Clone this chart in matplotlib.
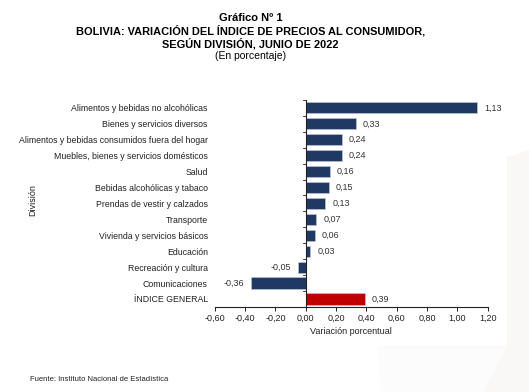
import matplotlib
matplotlib.use("Agg")
import matplotlib.pyplot as plt
from matplotlib.patches import Polygon
import numpy as np

plt.rcParams['font.family'] = ['Liberation Sans', 'DejaVu Sans']

# data (top to bottom as in the chart)
categorias = [
    "Alimentos y bebidas no alcohólicas",
    "Bienes y servicios diversos",
    "Alimentos y bebidas consumidos fuera del hogar",
    "Muebles, bienes y servicios domésticos",
    "Salud",
    "Bebidas alcohólicas y tabaco",
    "Prendas de vestir y calzados",
    "Transporte",
    "Vivienda y servicios básicos",
    "Educación",
    "Recreación y cultura",
    "Comunicaciones",
    "ÍNDICE GENERAL",
]
valores = [1.13, 0.33, 0.24, 0.24, 0.16, 0.15, 0.13, 0.07, 0.06, 0.03, -0.05, -0.36, 0.39]
xticks = [-0.60, -0.40, -0.20, 0.00, 0.20, 0.40, 0.60, 0.80, 1.00, 1.20]

navy = '#1F3864'
red = '#C00000'
colores = [navy] * (len(valores) - 1) + [red]

fig = plt.figure(figsize=(5.29, 3.92), dpi=100)

# faint background watermark on the right edge
W, H = 529, 392
wm = [(507, 157), (529, 150), (529, 392), (483, 392), (507, 345)]
fig.patches.append(Polygon([(x / W, 1 - y / H) for x, y in wm], closed=True,
                           transform=fig.transFigure, facecolor='#faf8f7',
                           edgecolor='none', zorder=0))
wm2 = [(377, 345), (507, 345), (483, 392), (381, 392)]
fig.patches.append(Polygon([(x / W, 1 - y / H) for x, y in wm2], closed=True,
                           transform=fig.transFigure, facecolor='#fdfcfc',
                           edgecolor='none', zorder=0))

ax = fig.add_axes([0.406, 0.217, 0.516, 0.528])
ax.patch.set_alpha(0)

y = np.arange(len(categorias))
ax.barh(y, valores, height=0.7, color=colores, edgecolor='#c8ccd4', linewidth=0.4, zorder=2)

for yi, v in zip(y, valores):
    txt = f"{v:.2f}".replace('.', ',')
    if v >= 0:
        ax.text(v + 0.045, yi, txt, va='center', ha='left', fontsize=6.5, color='#333333')
    else:
        ax.text(v - 0.045, yi, txt, va='center', ha='right', fontsize=6.5, color='#333333')

ax.set_ylim(len(categorias) - 0.5, -0.5)
ax.set_xlim(-0.60, 1.20)
ax.set_xticks(xticks)
ax.set_xticklabels([f"{t:.2f}".replace('.', ',') for t in xticks], fontsize=6.5, color='#222222')
ax.set_yticks(y)
ax.set_yticklabels(categorias, fontsize=6.3, color='#222222')
ax.tick_params(axis='y', length=0, pad=5)

# zero line acting as the category axis, with boundary ticks
ax.axvline(0, color='#222222', linewidth=0.8, zorder=3)
for b in np.arange(-0.5, len(categorias), 1.0):
    ax.plot([-0.018, 0], [b, b], color='#222222', linewidth=0.6, zorder=3, clip_on=False)

for s in ['top', 'right', 'left']:
    ax.spines[s].set_visible(False)
ax.spines['bottom'].set_color('#222222')
ax.spines['bottom'].set_linewidth(0.8)
ax.tick_params(axis='x', length=3, width=0.6, pad=2)

ax.set_xlabel("Variación porcentual", fontsize=6.5, color='#222222', labelpad=3)
fig.text(0.062, 0.49, "División", rotation=90, fontsize=6.5, color='#222222', ha='center', va='center')

fig.text(0.474, 0.955, "Gráfico Nº 1", fontsize=8, fontweight='bold', ha='center', va='center')
fig.text(0.474, 0.922, "BOLIVIA: VARIACIÓN DEL ÍNDICE DE PRECIOS AL CONSUMIDOR,", fontsize=7.9, fontweight='bold', ha='center', va='center')
fig.text(0.474, 0.889, "SEGÚN DIVISIÓN, JUNIO DE 2022", fontsize=7.9, fontweight='bold', ha='center', va='center')
fig.text(0.474, 0.856, "(En porcentaje)", fontsize=7.5, ha='center', va='center')

fig.text(0.057, 0.033, "Fuente: Instituto Nacional de Estadística", fontsize=5.5, ha='left', va='center', color='#222222')

fig.savefig("out.png", dpi=100, facecolor='white')
